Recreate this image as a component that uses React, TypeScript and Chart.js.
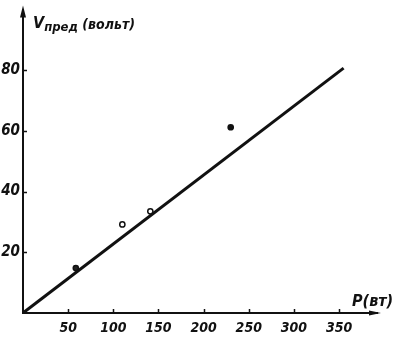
import React, { useEffect, useRef } from "react";
import { Chart, registerables } from "chart.js";

Chart.register(...registerables);

const fitLineX = [0, 355];
const fitLineY = [0, 80.7];
const measuredP = [58.5, 110, 141, 230];
const measuredV = [14.8, 29.2, 33.5, 61.2];
const measuredFill = ["#222", "#fff", "#fff", "#111"];
const xTickValues = [50, 100, 150, 200, 250, 300, 350];
const yTickValues = [20, 40, 60, 80];
const xAxisLabel = "P(вт)";
const yAxisLabelMain = "V";
const yAxisLabelSub = "пред";
const yAxisLabelRest = " (вольт)";

const FONT_FAMILY = "'DejaVu Sans Condensed', 'DejaVu Sans', sans-serif";

const decorPlugin = {
  id: "decor",
  afterDraw(chart: any) {
    const { ctx, chartArea, scales } = chart;
    const left = chartArea.left;
    const bottom = chartArea.bottom;
    ctx.save();
    ctx.strokeStyle = "#111";
    ctx.lineWidth = 1.5;
    // inward tick marks
    ctx.beginPath();
    xTickValues.forEach((v) => {
      const px = Math.round(scales.x.getPixelForValue(v)) + 0.5;
      ctx.moveTo(px, bottom + 1);
      ctx.lineTo(px, bottom - 4);
    });
    yTickValues.forEach((v) => {
      const py = Math.round(scales.y.getPixelForValue(v)) + 0.5;
      ctx.moveTo(left - 1, py);
      ctx.lineTo(left + 4, py);
    });
    ctx.stroke();
    ctx.fillStyle = "#111";
    // y arrow
    ctx.beginPath();
    ctx.moveTo(left, chartArea.top - 4);
    ctx.lineTo(left - 3, chartArea.top + 8);
    ctx.lineTo(left + 3, chartArea.top + 8);
    ctx.closePath();
    ctx.fill();
    // x arrow
    ctx.beginPath();
    ctx.moveTo(chartArea.right + 4, bottom);
    ctx.lineTo(chartArea.right - 8, bottom - 2.5);
    ctx.lineTo(chartArea.right - 8, bottom + 2.5);
    ctx.closePath();
    ctx.fill();
    // y label
    ctx.textBaseline = "alphabetic";
    ctx.textAlign = "left";
    let x = left + 10;
    const y = chartArea.top + 20;
    ctx.font = `italic bold 16px ${FONT_FAMILY}`;
    ctx.fillText(yAxisLabelMain, x, y - 2);
    x += ctx.measureText(yAxisLabelMain).width;
    ctx.font = `italic bold 13px ${FONT_FAMILY}`;
    ctx.fillText(yAxisLabelSub, x, y + 1);
    x += ctx.measureText(yAxisLabelSub).width;
    ctx.font = `italic bold 14px ${FONT_FAMILY}`;
    ctx.fillText(yAxisLabelRest, x, y - 1);
    // x label
    ctx.font = `italic bold 16px ${FONT_FAMILY}`;
    ctx.textAlign = "left";
    ctx.fillText(xAxisLabel, 352, bottom - 7);
    ctx.restore();
  },
};

export default function App() {
  const ref = useRef<HTMLCanvasElement | null>(null);
  useEffect(() => {
    if (!ref.current) return;
    const chart = new Chart(ref.current, {
      type: "scatter",
      data: {
        datasets: [
          {
            type: "line",
            data: fitLineX.map((p, i) => ({ x: p, y: fitLineY[i] })),
            borderColor: "#111",
            borderWidth: 3,
            pointRadius: 0,
            showLine: true,
            fill: false,
          } as any,
          {
            data: measuredP.map((p, i) => ({ x: p, y: measuredV[i] })),
            pointRadius: 2.6,
            pointBorderWidth: 1.5,
            pointBorderColor: "#111",
            pointBackgroundColor: measuredFill,
          },
        ],
      },
      options: {
        responsive: false,
        animation: false,
        layout: { padding: { top: 9, right: 30, left: 0, bottom: 0 } },
        plugins: { legend: { display: false }, tooltip: { enabled: false } },
        scales: {
          x: {
            type: "linear",
            min: 0,
            max: 392,
            afterFit(scale: any) {
              scale.height = 25;
            },
            afterBuildTicks(scale: any) {
              scale.ticks = xTickValues.map((v) => ({ value: v }));
            },
            ticks: {
              color: "#111",
              padding: 4,
              maxRotation: 0,
              autoSkip: false,
              font: { family: FONT_FAMILY, size: 14, style: "italic", weight: "bold", lineHeight: 1 },
            },
            grid: { display: true, drawOnChartArea: false, drawTicks: true, tickLength: 4, color: "rgba(0,0,0,0)", lineWidth: 1 },
            border: { display: true, color: "#111", width: 2 },
          },
          y: {
            type: "linear",
            min: 0,
            max: 100,
            afterFit(scale: any) {
              scale.width = 23;
            },
            afterBuildTicks(scale: any) {
              scale.ticks = yTickValues.map((v) => ({ value: v }));
            },
            ticks: {
              color: "#111",
              padding: 2,
              autoSkip: false,
              font: { family: FONT_FAMILY, size: 15, style: "italic", weight: "bold", lineHeight: 1 },
            },
            grid: { display: true, drawOnChartArea: false, drawTicks: true, tickLength: 1, color: "rgba(0,0,0,0)", lineWidth: 1 },
            border: { display: true, color: "#111", width: 2 },
          },
        },
      },
      plugins: [decorPlugin],
    });
    return () => chart.destroy();
  }, []);
  return (
    <div style={{ position: "absolute", left: 0, top: 0, width: 407, height: 338, background: "#fff" }}>
      <canvas ref={ref} width={407} height={338} style={{ display: "block" }} />
    </div>
  );
}
